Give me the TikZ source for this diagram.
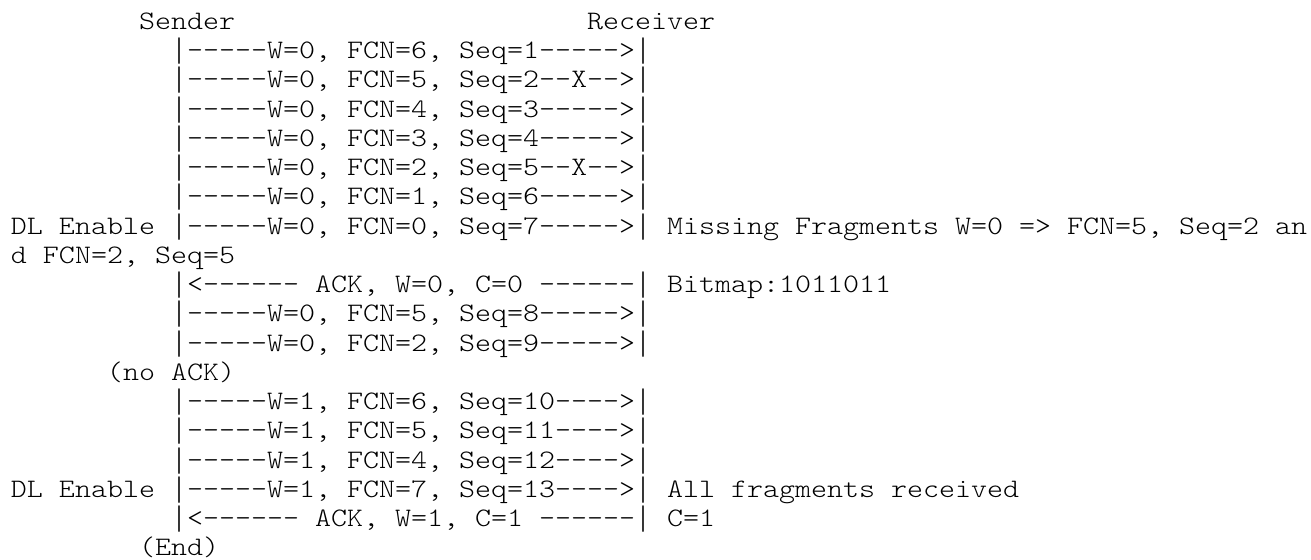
\documentclass[tikz,border=0pt]{standalone}
\usepackage{fontspec}
\usepackage{graphicx}
% light typewriter face, widened to a 0.6em character cell
\setmonofont{Latin Modern Mono Light}[FakeStretch=1.1429, WordSpace={1,0,0}]
% a '|' stretched to nearly the full line height so the lifelines read as continuous
\newcommand\lifebar{\raisebox{-0.22em}{\resizebox*{\width}{1.0em}{\raisebox{\depth}{|}}}}
\begin{document}
% one unit across = one character cell, one unit down = one text line
\begin{tikzpicture}[x=8pt, y=-14.62pt,
  ascii/.style={anchor=base west, inner sep=0pt, outer sep=0pt,
    font=\ttfamily\fontsize{13.333pt}{14.62pt}\selectfont}]
\useasboundingbox (-5.5pt,14.75pt) rectangle (650pt,-264.75pt);
% header
\node[ascii] (sender)   at (8,0)  {Sender};
\node[ascii] (receiver) at (36,0) {Receiver};
% window 0
\node[ascii] (f1) at (10,1) {\lifebar-----W=0, FCN=6, Seq=1----->\lifebar};
\node[ascii] (f2) at (10,2) {\lifebar-----W=0, FCN=5, Seq=2--X-->\lifebar};
\node[ascii] (f3) at (10,3) {\lifebar-----W=0, FCN=4, Seq=3----->\lifebar};
\node[ascii] (f4) at (10,4) {\lifebar-----W=0, FCN=3, Seq=4----->\lifebar};
\node[ascii] (f5) at (10,5) {\lifebar-----W=0, FCN=2, Seq=5--X-->\lifebar};
\node[ascii] (f6) at (10,6) {\lifebar-----W=0, FCN=1, Seq=6----->\lifebar};
\node[ascii] (f7) at (0,7)  {DL Enable \lifebar-----W=0, FCN=0, Seq=7----->\lifebar{} Missing Fragments W=0 => FCN=5, Seq=2 an};
\node[ascii] (f7b) at (0,8) {d FCN=2, Seq=5};
\node[ascii] (ack0) at (10,9)  {\lifebar<------ ACK, W=0, C=0 ------\lifebar{} Bitmap:1011011};
\node[ascii] (f8)   at (10,10) {\lifebar-----W=0, FCN=5, Seq=8----->\lifebar};
\node[ascii] (f9)   at (10,11) {\lifebar-----W=0, FCN=2, Seq=9----->\lifebar};
\node[ascii] (noack) at (6,12) {(no ACK)};
% window 1
\node[ascii] (f10) at (10,13) {\lifebar-----W=1, FCN=6, Seq=10---->\lifebar};
\node[ascii] (f11) at (10,14) {\lifebar-----W=1, FCN=5, Seq=11---->\lifebar};
\node[ascii] (f12) at (10,15) {\lifebar-----W=1, FCN=4, Seq=12---->\lifebar};
\node[ascii] (f13) at (0,16)  {DL Enable \lifebar-----W=1, FCN=7, Seq=13---->\lifebar{} All fragments received};
\node[ascii] (ack1) at (10,17) {\lifebar<------ ACK, W=1, C=1 ------\lifebar{} C=1};
\node[ascii] (end)  at (8,18)  {(End)};
\end{tikzpicture}
\end{document}
